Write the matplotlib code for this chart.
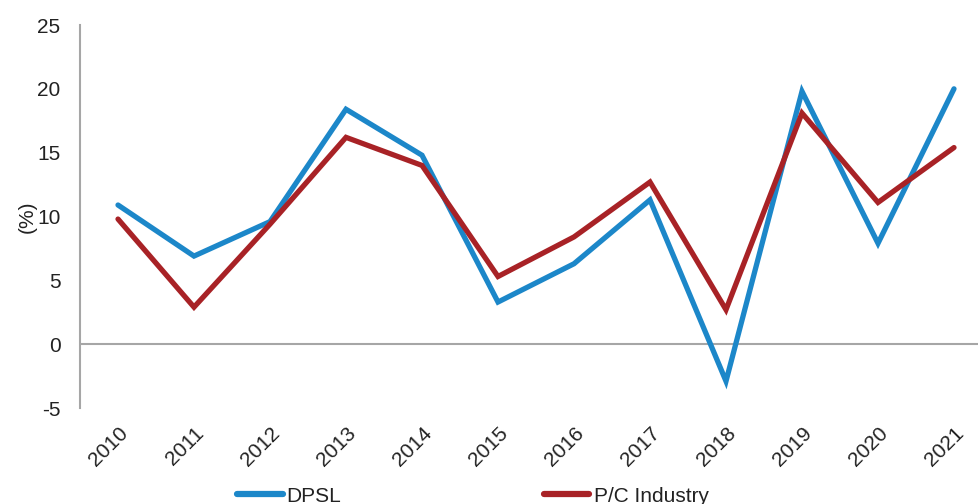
import matplotlib.pyplot as plt
from matplotlib.lines import Line2D

plt.rcParams['font.family'] = ['Liberation Sans', 'DejaVu Sans']
plt.rcParams['axes.unicode_minus'] = False

years = ["2010", "2011", "2012", "2013", "2014", "2015",
         "2016", "2017", "2018", "2019", "2020", "2021"]
dpsl = [10.9, 6.9, 9.6, 18.4, 14.8, 3.3, 6.3, 11.3, -2.9, 19.8, 7.9, 20.0]
pc_industry = [9.8, 2.9, 9.4, 16.2, 14.0, 5.3, 8.4, 12.7, 2.7, 18.1, 11.1, 15.4]

BLUE = "#1c87c9"
RED = "#a82226"
GREY = "#a6a6a6"
TXT = "#222222"

fig = plt.figure(figsize=(9.79, 5.04), dpi=100)
ax = fig.add_axes([80 / 979, 1 - 408 / 504, 912 / 979, 383 / 504])

x = list(range(len(years)))
ax.plot(x, dpsl, color=BLUE, lw=3.8, solid_capstyle="round", solid_joinstyle="miter", zorder=3)
ax.plot(x, pc_industry, color=RED, lw=3.8, solid_capstyle="round", solid_joinstyle="miter", zorder=4)

ax.axhline(0, color=GREY, lw=1.5, zorder=1)
ax.set_xlim(-0.5, len(years) - 0.5)
ax.set_ylim(-5, 25)
ax.set_yticks(range(-5, 26, 5))
ax.set_xticks(x)
ax.set_xticklabels(years, rotation=45, ha="right", va="top", rotation_mode="anchor")

for side in ["top", "right", "bottom"]:
    ax.spines[side].set_visible(False)
ax.spines["left"].set_color(GREY)
ax.spines["left"].set_linewidth(1.5)
ax.tick_params(axis="both", length=0, labelsize=15, colors=TXT)
ax.tick_params(axis="y", pad=14)
ax.tick_params(axis="x", pad=11)
ax.set_ylabel("(%)", fontsize=15, color=TXT, labelpad=0)

handles = [Line2D([], [], color=BLUE, lw=4.5, solid_capstyle="round"),
           Line2D([], [], color=RED, lw=4.5, solid_capstyle="round")]
fig.legend(handles, ["DPSL", "P/C Industry"], loc="center left",
           bbox_to_anchor=(218 / 979, 1 - 496 / 504), ncol=2, frameon=False,
           fontsize=15, handlelength=2.2, handletextpad=0.2, columnspacing=9.7,
           labelcolor=TXT)

plt.savefig("out.png", dpi=100)
